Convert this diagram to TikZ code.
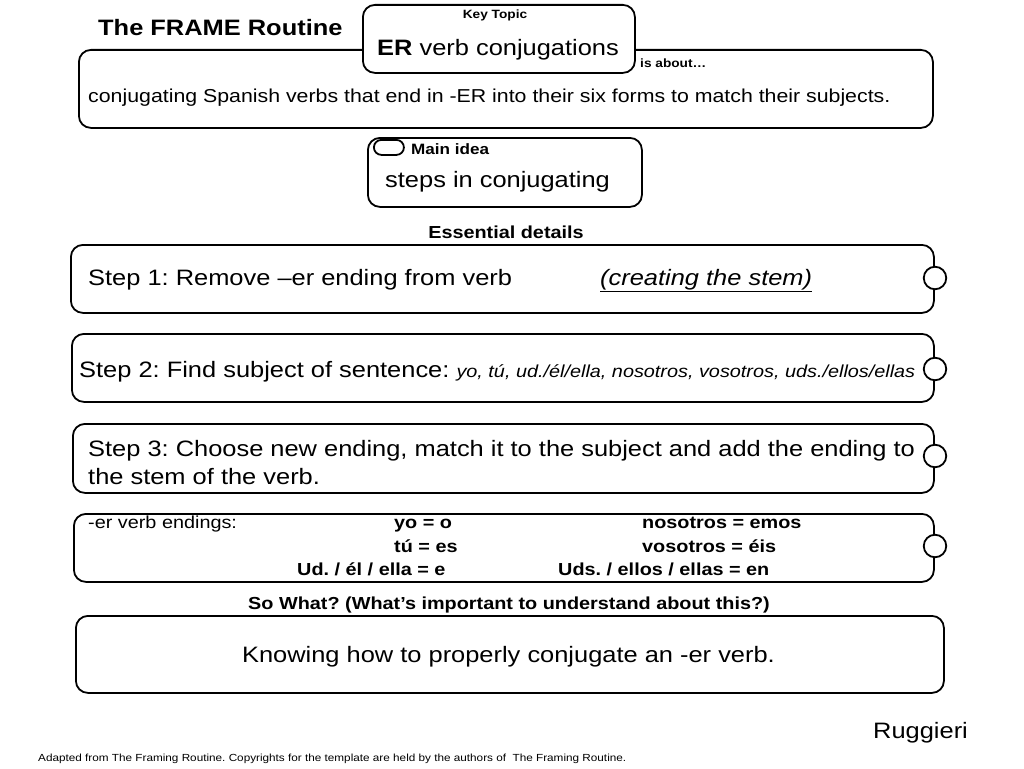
\documentclass[tikz,border=0pt]{standalone}
\usepackage{fontspec}
\setmainfont{Liberation Sans}[FakeStretch=1.14]
\begin{document}
\frenchspacing
\begin{tikzpicture}[x=1pt,y=-1pt,
  frame/.style={draw, rounded corners=12pt, line width=1.8pt, fill=white, inner sep=0pt, anchor=north west},
  knob/.style={draw, circle, line width=1.8pt, fill=white, inner sep=0pt, minimum size=22.5pt},
  txt/.style={anchor=base west, inner sep=0pt},
  ctxt/.style={anchor=base, inner sep=0pt},
  big/.style={font=\fontsize{22.3}{28}\selectfont},
  mid/.style={font=\fontsize{17.4}{22}\selectfont},
  midb/.style={font=\fontsize{17.4}{22}\selectfont\bfseries},
  small/.style={font=\fontsize{12}{14}\selectfont\bfseries}]
\useasboundingbox[fill=white] (0,0) rectangle (1024,768);

% title
\node[txt, font=\fontsize{22.3}{28}\selectfont\bfseries] (title) at (98,36) {The FRAME Routine};

% is about box
\node[frame, minimum width=854pt, minimum height=78pt] (about) at (78,49) {};
\node[txt, font=\fontsize{18.7}{22}\selectfont] (abouttxt) at (88,102) {conjugating Spanish verbs that end in -ER into their six forms to match their subjects.};

% key topic box
\node[frame, minimum width=272pt, minimum height=68pt] (key) at (362,4) {};
\node[ctxt, small] (keylbl) at (495,19) {Key Topic};
\node[txt, big] (keytxt) at (377,56) {\textbf{ER} verb conjugations};
\node[txt, small] (isabout) at (640,67) {is about…};

% main idea
\node[frame, minimum width=274pt, minimum height=69pt] (main) at (367,137) {};
\node[draw, rounded corners=7.5pt, line width=1.8pt, fill=white, inner sep=0pt, minimum width=30pt, minimum height=15pt, anchor=north west] (pill) at (373,139) {};
\node[txt, font=\fontsize{15}{18}\selectfont\bfseries] (mainlbl) at (411,154) {Main idea};
\node[txt, big] (maintxt) at (385,187) {steps in conjugating};

\node[ctxt, midb] (ess) at (506,238) {Essential details};

% step 1
\node[frame, minimum width=863pt, minimum height=68pt] (s1) at (70,244) {};
\node[knob] (k1) at (935,278) {};
\node[txt, big] (s1txt) at (88,285) {Step 1: Remove –er ending from verb};
\node[txt, big] (s1b) at (600,285) {\underline{\itshape (creating the stem)}};

% step 2
\node[frame, minimum width=862pt, minimum height=68pt] (s2) at (71,333) {};
\node[knob] (k2) at (935,369) {};
\node[txt, big] (s2txt) at (79,377) {Step 2: Find subject of sentence: {\fontsize{17.4}{22}\selectfont\itshape yo, tú, ud./él/ella, nosotros, vosotros, uds./ellos/ellas}};

% step 3
\node[frame, minimum width=861pt, minimum height=69pt] (s3) at (72,423) {};
\node[knob] (k3) at (935,456) {};
\node[txt, big] (s3a) at (88,456) {Step 3: Choose new ending, match it to the subject and add the ending to};
\node[txt, big] (s3b) at (88,484) {the stem of the verb.};

% endings
\node[frame, minimum width=860pt, minimum height=68pt] (s4) at (73,513) {};
\node[knob] (k4) at (935,546) {};
\node[txt, mid] (e0) at (88,528) {-er verb endings:};
\node[txt, midb] (e1) at (394,528) {yo = o};
\node[txt, midb] (e2) at (394,552) {tú = es};
\node[txt, midb] (e3) at (297,575) {Ud. / él / ella = e};
\node[txt, midb] (e4) at (642,528) {nosotros = emos};
\node[txt, midb] (e5) at (642,552) {vosotros = éis};
\node[txt, midb] (e6) at (558,575) {Uds. / ellos / ellas = en};

\node[ctxt, midb] (sowhat) at (509,609) {So What? (What’s important to understand about this?)};

% knowing
\node[frame, minimum width=868pt, minimum height=77pt] (know) at (75,615) {};
\node[ctxt, big] (knowtxt) at (508.5,662) {Knowing how to properly conjugate an -er verb.};

\node[txt, big] (rug) at (873,738) {Ruggieri};
\node[txt, font=\fontsize{10.3}{12}\selectfont] (foot) at (38,761) {Adapted from The Framing Routine. Copyrights for the template are held by the authors of\ \ The Framing Routine.};
\end{tikzpicture}
\end{document}
